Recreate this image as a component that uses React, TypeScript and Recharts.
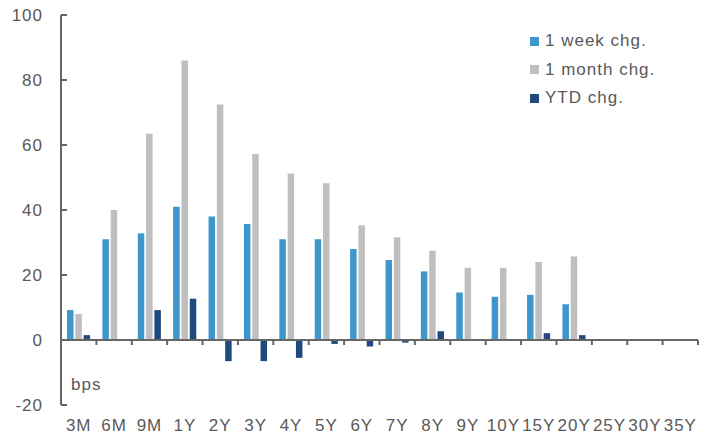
import { Bar, BarChart, Legend, ReferenceLine, XAxis, YAxis } from "recharts"

const tenors = ["3M", "6M", "9M", "1Y", "2Y", "3Y", "4Y", "5Y", "6Y", "7Y", "8Y", "9Y", "10Y", "15Y", "20Y", "25Y", "30Y", "35Y"]
const weekChg = [9.2, 31, 32.8, 41, 38, 35.7, 31, 31, 28, 24.6, 21.1, 14.6, 13.3, 13.9, 11, null, null, null]
const monthChg = [8, 40, 63.5, 86, 72.5, 57.2, 51.2, 48.2, 35.3, 31.6, 27.5, 22.2, 22.2, 24, 25.7, null, null, null]
const ytdChg = [1.5, 0, 9.2, 12.7, -6.5, -6.5, -5.5, -1.2, -2, -0.8, 2.7, 0.3, 0, 2.1, 1.5, null, null, null]
const yTicks = [-20, 0, 20, 40, 60, 80, 100]

const series = [
  { key: "week", name: "1 week chg.", color: "#3d97cb" },
  { key: "month", name: "1 month chg.", color: "#bfbfbf" },
  { key: "ytd", name: "YTD chg.", color: "#1f4a7e" },
]

const data = tenors.map((t, i) => ({
  name: t,
  week: weekChg[i],
  month: monthChg[i],
  ytd: ytdChg[i],
}))

const textColor = "#595959"
const axisColor = "#666666"
const font = "'Liberation Sans', Arial, sans-serif"

const YTick = (props: any) => {
  const { x, y, payload } = props
  return (
    <g>
      <line x1={x + 18} x2={x + 24} y1={y} y2={y} stroke={axisColor} strokeWidth={2} />
      <text x={x} y={y} dy="0.36em" textAnchor="end" fill={textColor} fontSize={17} letterSpacing={1} fontFamily={font}>
        {payload.value}
      </text>
    </g>
  )
}

const XTick = (props: any) => {
  const { x, y, payload } = props
  return (
    <text x={x} y={y} dy="0.71em" textAnchor="middle" fill={textColor} fontSize={17} letterSpacing={1} fontFamily={font}>
      {payload.value}
    </text>
  )
}

const ZeroAxis = (props: any) => {
  const { x1, x2, y1 } = props
  const n = tenors.length
  const step = (x2 - x1) / n
  return (
    <g>
      <line x1={x1} x2={x2} y1={y1} y2={y1} stroke={axisColor} strokeWidth={2} />
      {tenors.map((_, i) => (
        <line key={i} x1={x1 + (i + 1) * step} x2={x1 + (i + 1) * step} y1={y1} y2={y1 + 5} stroke={axisColor} strokeWidth={2} />
      ))}
    </g>
  )
}

const LegendBox = () => (
  <div style={{ fontFamily: font, fontSize: 17, letterSpacing: 1, color: textColor }}>
    {series.map((s) => (
      <div key={s.key} style={{ display: "flex", alignItems: "center", height: 28.5, whiteSpace: "nowrap" }}>
        <span style={{ width: 9, height: 9, background: s.color, marginRight: 6, display: "inline-block" }} />
        {s.name}
      </div>
    ))}
  </div>
)

export default function App() {
  return (
    <div style={{ position: "absolute", left: 0, top: 0, width: 710, height: 435, background: "#fff" }}>
      <BarChart width={710} height={435} data={data} margin={{ top: 15, right: 12, bottom: 0, left: 0 }} barSize={6.5} barGap={1.8}>
        <XAxis dataKey="name" height={30} axisLine={false} tickLine={false} tickSize={0} tickMargin={14} tick={<XTick />} interval={0} />
        <YAxis
          width={61}
          domain={[-20, 100]}
          ticks={yTicks}
          type="number"
          axisLine={{ stroke: axisColor, strokeWidth: 2 }}
          tickLine={false}
          tickSize={0}
          tickMargin={18}
          tick={<YTick />}
          interval={0}
        />
        {series.map((s) => (
          <Bar key={s.key} dataKey={s.key} name={s.name} fill={s.color} isAnimationActive={false} />
        ))}
        <ReferenceLine y={0} shape={<ZeroAxis />} />
        <Legend
          layout="vertical"
          align="center"
          verticalAlign="middle"
          wrapperStyle={{ top: 27, left: 530, width: 180, height: 90 }}
          content={<LegendBox />}
        />
      </BarChart>
      <div style={{ position: "absolute", left: 71, top: 376, fontFamily: font, fontSize: 17, lineHeight: "17px", letterSpacing: 1, color: textColor }}>
        bps
      </div>
    </div>
  )
}
